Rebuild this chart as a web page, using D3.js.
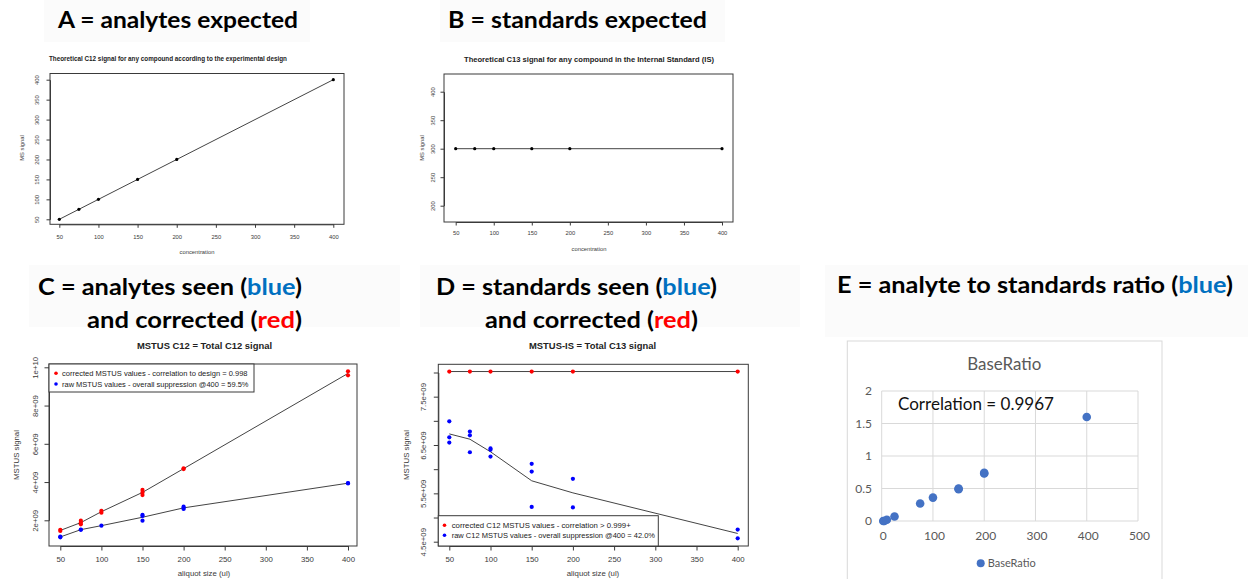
<!DOCTYPE html>
<html><head><meta charset="utf-8">
<script src="https://cdn.jsdelivr.net/npm/d3@7"></script>
<style>body{margin:0;background:#fff;} svg{display:block;}</style>
</head><body>
<svg id="chart" width="1248" height="579"></svg>
<script>
// ---------------- data ----------------
const designX   = [50, 75, 100, 150, 200, 400];
const designC12 = [50, 75, 100, 150, 200, 400];
const designC13 = [300, 300, 300, 300, 300, 300];

const rTicksX  = [50, 100, 150, 200, 250, 300, 350, 400];
const aTicksY  = [50, 100, 150, 200, 250, 300, 350, 400];
const bTicksY  = [200, 250, 300, 350, 400];
const cTicksY  = [2e9, 4e9, 6e9, 8e9, 1e10];
const cTickLabels = ["2e+09", "4e+09", "6e+09", "8e+09", "1e+10"];
const dTicksY  = [4.5e9, 5e9, 5.5e9, 6e9, 6.5e9, 7e9, 7.5e9, 8e9];
const dTickLabels = ["4.5e+09", "", "5.5e+09", "", "6.5e+09", "", "7.5e+09", ""];

// C: MSTUS C12
const cRedX  = [50, 50, 75, 75, 75, 100, 100, 150, 150, 150, 200, 200, 400, 400];
const cRedY  = [1.50e9, 1.44e9, 1.98e9, 1.88e9, 1.79e9, 2.50e9, 2.40e9, 3.59e9, 3.46e9, 3.32e9, 4.72e9, 4.68e9, 9.79e9, 9.58e9];
const cBlueX = [50, 50, 75, 75, 100, 150, 150, 150, 200, 200, 200, 400, 400];
const cBlueY = [1.11e9, 1.15e9, 1.50e9, 1.52e9, 1.72e9, 2.28e9, 2.23e9, 1.98e9, 2.71e9, 2.59e9, 2.65e9, 3.93e9, 3.95e9];
const cRedLine  = [1.47e9, 1.88e9, 2.45e9, 3.46e9, 4.70e9, 9.68e9];
const cBlueLine = [1.13e9, 1.51e9, 1.72e9, 2.16e9, 2.65e9, 3.94e9];

// D: MSTUS-IS
const dRedX  = [50, 75, 100, 150, 200, 400];
const dRedY  = [8.02e9, 8.02e9, 8.02e9, 8.02e9, 8.02e9, 8.02e9];
const dBlueX = [50, 50, 50, 75, 75, 75, 100, 100, 100, 150, 150, 150, 200, 200, 400, 400];
const dBlueY = [6.99e9, 6.66e9, 6.55e9, 6.78e9, 6.70e9, 6.35e9, 6.43e9, 6.40e9, 6.26e9, 6.11e9, 5.95e9, 5.22e9, 5.80e9, 5.21e9, 4.75e9, 4.57e9];
const dRedLine  = [8.02e9, 8.02e9, 8.02e9, 8.02e9, 8.02e9, 8.02e9];
const dBlueLine = [6.73e9, 6.62e9, 6.36e9, 5.76e9, 5.51e9, 4.67e9];

// E: BaseRatio
const eX = [3, 5, 10, 25, 75, 100, 150, 150, 200, 200, 400];
const eY = [0.00, 0.00, 0.02, 0.07, 0.27, 0.36, 0.49, 0.50, 0.73, 0.74, 1.60];
const eTicksX = [0, 100, 200, 300, 400, 500];
const eTicksY = [0, 0.5, 1, 1.5, 2];

// ---------------- drawing ----------------
const svg = d3.select("#chart");
const RF = "'Liberation Sans', Arial, sans-serif";
const HF = "Lato, 'Open Sans', sans-serif";
const INK = "#3a3a3a";

// faint heading backgrounds
[[44,0,266,42],[440,0,285,42],[29,265,371,62],[420,265,380,62],[825,265,423,72]].forEach(b=>{
  svg.append("rect").attr("x",b[0]).attr("y",b[1]).attr("width",b[2]).attr("height",b[3]).attr("fill","#fbfbfb");
});

// headings
function heading(parts, x, x2, base, size) {
  const t = svg.append("text").attr("x", x).attr("y", base)
    .attr("font-family", HF).attr("font-weight", 700).attr("font-size", size)
    .attr("fill", "#000").attr("textLength", x2 - x).attr("lengthAdjust", "spacingAndGlyphs");
  parts.forEach(p => t.append("tspan").text(p[0]).attr("fill", p[1] || "#000"));
}
heading([["A = analytes expected"]], 58, 298, 28, 23);
heading([["B = standards expected"]], 448, 707, 28, 23);
heading([["C = analytes seen ("],["blue","#0070C0"],[")"]], 38, 302, 295, 23);
heading([["and corrected ("],["red","#FF0000"],[")"]], 87, 302, 328, 23);
heading([["D = standards seen ("],["blue","#0070C0"],[")"]], 436, 717, 295, 23);
heading([["and corrected ("],["red","#FF0000"],[")"]], 485, 698, 328, 23);
heading([["E = analyte to standards ratio ("],["blue","#0070C0"],[")"]], 837, 1233, 293, 23);

// R-style panel
function rPanel(o) {
  const g = svg.append("g");
  const x = d3.scaleLinear().domain(o.xd).range(o.xr);
  const y = d3.scaleLinear().domain(o.yd).range(o.yr);
  g.append("rect").attr("x", o.box.l).attr("y", o.box.t)
    .attr("width", o.box.r - o.box.l).attr("height", o.box.b - o.box.t)
    .attr("fill", "none").attr("stroke", INK).attr("stroke-width", 1);
  // x axis
  const gx = g.append("g").attr("transform", `translate(0,${o.box.b})`)
    .call(d3.axisBottom(x).tickValues(rTicksX).tickSize(o.tick).tickSizeOuter(0).tickFormat(d3.format("d")));
  gx.selectAll("path,line").attr("stroke", INK);
  gx.selectAll("text").attr("font-family", RF).attr("font-size", o.fs).attr("fill", INK)
    .attr("y", o.xLabOff).attr("dy", "0.35em");
  // y axis
  const gy = g.append("g").attr("transform", `translate(${o.box.l},0)`)
    .call(d3.axisLeft(y).tickValues(o.yTicks).tickSize(o.tick).tickSizeOuter(0)
      .tickFormat((d, i) => o.yLabels ? o.yLabels[i] : d3.format("d")(d)));
  gy.selectAll("path,line").attr("stroke", INK);
  gy.selectAll("text").attr("font-family", RF).attr("font-size", o.fs).attr("fill", INK)
    .attr("x", 0).attr("dy", "0.35em").attr("text-anchor", "middle")
    .attr("transform", `translate(${-o.yLabOff},0) rotate(-90)`);
  gx.select(".domain").attr("fill", "none"); gy.select(".domain").attr("fill", "none");
  // titles
  g.append("text").attr("x", o.title.cx).attr("y", o.title.cy).attr("dy", "0.35em")
    .attr("text-anchor", "middle").attr("font-family", RF).attr("font-weight", 700)
    .attr("font-size", o.title.fs).attr("fill", "#222").text(o.title.text)
    .attr("textLength", o.title.w).attr("lengthAdjust", "spacingAndGlyphs");
  g.append("text").attr("x", o.xlab.cx).attr("y", o.xlab.cy).attr("dy", "0.35em")
    .attr("text-anchor", "middle").attr("font-family", RF).attr("font-size", o.xlab.fs)
    .attr("fill", INK).text(o.xlab.text);
  g.append("text").attr("transform", `translate(${o.ylab.cx},${o.ylab.cy}) rotate(-90)`)
    .attr("dy", "0.35em").attr("text-anchor", "middle").attr("font-family", RF)
    .attr("font-size", o.ylab.fs).attr("fill", INK).text(o.ylab.text);
  // lines and points
  const line = d3.line().x(d => x(d[0])).y(d => y(d[1]));
  o.lines.forEach(L => {
    g.append("path").datum(d3.zip(L.x, L.y)).attr("d", line)
      .attr("fill", "none").attr("stroke", "#444").attr("stroke-width", 1);
  });
  o.points.forEach(P => {
    g.selectAll(null).data(d3.zip(P.x, P.y)).join("circle")
      .attr("cx", d => x(d[0])).attr("cy", d => y(d[1])).attr("r", o.r).attr("fill", P.color);
  });
  // legend
  if (o.legend) {
    const L = o.legend;
    g.append("rect").attr("x", L.l).attr("y", L.t).attr("width", L.r - L.l).attr("height", L.b - L.t)
      .attr("fill", "#fff").attr("stroke", INK).attr("stroke-width", 1);
    L.rows.forEach(row => {
      g.append("circle").attr("cx", L.mx).attr("cy", row.y).attr("r", 1.8).attr("fill", row.color);
      g.append("text").attr("x", L.tx).attr("y", row.y).attr("dy", "0.35em")
        .attr("font-family", RF).attr("font-size", L.fs).attr("fill", "#222").text(row.text)
        .attr("textLength", row.end - L.tx).attr("lengthAdjust", "spacingAndGlyphs");
    });
  }
}

// Panel A
rPanel({
  xd: [50, 400], xr: [59.3, 333.3], yd: [50, 400], yr: [219.3, 79.7],
  box: { l: 50, t: 73.5, r: 344, b: 224.3 }, tick: 3.5, fs: 5.8, xLabOff: 12.5, yLabOff: 12.7,
  yTicks: aTicksY,
  title: { text: "Theoretical C12 signal for any compound according to the experimental design", cx: 168, cy: 59, fs: 6.4, w: 238 },
  xlab: { text: "concentration", cx: 197, cy: 251.7, fs: 5.8 },
  ylab: { text: "MS signal", cx: 21.7, cy: 148, fs: 5.8 },
  lines: [{ x: designX, y: designC12 }],
  points: [{ x: designX, y: designC12, color: "#000" }], r: 1.6
});

// Panel B
rPanel({
  xd: [50, 400], xr: [455.7, 722], yd: [200, 400], yr: [205.7, 91.7],
  box: { l: 444, t: 74, r: 733, b: 222 }, tick: 3.5, fs: 5.8, xLabOff: 11.3, yLabOff: 10.7,
  yTicks: bTicksY,
  title: { text: "Theoretical C13 signal for any compound in the Internal Standard (IS)", cx: 589, cy: 60, fs: 6.4, w: 250 },
  xlab: { text: "concentration", cx: 589, cy: 249.3, fs: 5.8 },
  ylab: { text: "MS signal", cx: 422, cy: 148, fs: 5.8 },
  lines: [{ x: designX, y: designC13 }],
  points: [{ x: designX, y: designC13, color: "#000" }], r: 1.6
});

// Panel C
rPanel({
  xd: [50, 400], xr: [60.3, 348], yd: [2e9, 1e10], yr: [520.3, 367.3],
  box: { l: 49, t: 364, r: 357, b: 546 }, tick: 4.5, fs: 7.8, xLabOff: 13, yLabOff: 14,
  yTicks: cTicksY, yLabels: cTickLabels,
  title: { text: "MSTUS C12 = Total C12 signal", cx: 204.5, cy: 345.7, fs: 9.4, w: 135 },
  xlab: { text: "aliquot size (ul)", cx: 204, cy: 573, fs: 7.8 },
  ylab: { text: "MSTUS signal", cx: 16.7, cy: 455, fs: 7.8 },
  lines: [{ x: designX, y: cRedLine }, { x: designX, y: cBlueLine }],
  points: [{ x: cRedX, y: cRedY, color: "#FF0000" }, { x: cBlueX, y: cBlueY, color: "#0000FF" }], r: 2.1,
  legend: { l: 49, t: 364, r: 254, b: 392, mx: 56, tx: 62, fs: 7.3,
    rows: [
      { y: 373.3, color: "#FF0000", text: "corrected MSTUS values - correlation to design = 0.998", end: 247.5 },
      { y: 384, color: "#0000FF", text: "raw MSTUS values - overall suppression @400 = 59.5%", end: 248.5 }
    ] }
});

// Panel D
rPanel({
  xd: [50, 400], xr: [449.3, 737.7], yd: [4.5e9, 8e9], yr: [541.7, 372.5],
  box: { l: 438.3, t: 364.3, r: 748.3, b: 546 }, tick: 4.5, fs: 7.8, xLabOff: 13, yLabOff: 15,
  yTicks: dTicksY, yLabels: dTickLabels,
  title: { text: "MSTUS-IS = Total C13 signal", cx: 592.5, cy: 345.7, fs: 9.4, w: 127 },
  xlab: { text: "aliquot size (ul)", cx: 593, cy: 573, fs: 7.8 },
  ylab: { text: "MSTUS signal", cx: 406.7, cy: 455, fs: 7.8 },
  lines: [{ x: designX, y: dRedLine }, { x: designX, y: dBlueLine }],
  points: [{ x: dRedX, y: dRedY, color: "#FF0000" }, { x: dBlueX, y: dBlueY, color: "#0000FF" }], r: 2.1,
  legend: { l: 438.3, t: 515.7, r: 658.3, b: 546, mx: 444.5, tx: 451.7, fs: 7.3,
    rows: [
      { y: 525.3, color: "#FF0000", text: "corrected C12 MSTUS values - correlation > 0.999+", end: 630.7 },
      { y: 535.2, color: "#0000FF", text: "raw C12 MSTUS values - overall suppression @400 = 42.0%", end: 655 }
    ] }
});

// Panel E (Excel-style)
(function () {
  const g = svg.append("g");
  const x = d3.scaleLinear().domain([0, 500]).range([881.7, 1138]);
  const y = d3.scaleLinear().domain([0, 2]).range([521, 391]);
  g.append("rect").attr("x", 847.3).attr("y", 341).attr("width", 314.7).attr("height", 260)
    .attr("fill", "#fff").attr("stroke", "#d9d9d9").attr("stroke-width", 1);
  g.append("text").attr("x", 1004.3).attr("y", 369.5).attr("text-anchor", "middle")
    .attr("font-family", HF).attr("font-size", 16.5).attr("fill", "#595959").text("BaseRatio")
    .attr("textLength", 74).attr("lengthAdjust", "spacingAndGlyphs");
  g.selectAll(null).data(eTicksY).join("line")
    .attr("x1", x(0)).attr("x2", x(500)).attr("y1", d => y(d)).attr("y2", d => y(d))
    .attr("stroke", "#d9d9d9").attr("stroke-width", 1);
  g.selectAll(null).data(eTicksX).join("line")
    .attr("x1", d => x(d)).attr("x2", d => x(d)).attr("y1", y(0)).attr("y2", y(2))
    .attr("stroke", "#d9d9d9").attr("stroke-width", 1);
  g.selectAll(null).data(eTicksY).join("text")
    .attr("x", 872).attr("y", d => y(d)).attr("dy", "0.35em").attr("text-anchor", "end")
    .attr("font-family", HF).attr("font-size", 12).attr("fill", "#595959")
    .text(d => d3.format("~g")(d));
  g.selectAll(null).data(eTicksX).join("text")
    .attr("x", d => x(d) + 1.5).attr("y", 536).attr("dy", "0.35em").attr("text-anchor", "middle")
    .attr("font-family", HF).attr("font-size", 12).attr("fill", "#595959").text(d => d);
  g.append("text").attr("x", 898).attr("y", 410).attr("font-family", HF).attr("font-size", 17)
    .attr("fill", "#111").text("Correlation = 0.9967")
    .attr("textLength", 156).attr("lengthAdjust", "spacingAndGlyphs");
  g.selectAll(null).data(d3.zip(eX, eY)).join("circle")
    .attr("cx", d => x(d[0])).attr("cy", d => y(d[1])).attr("r", 4.3).attr("fill", "#4472C4");
  g.append("circle").attr("cx", 980.7).attr("cy", 563.3).attr("r", 4).attr("fill", "#4472C4");
  g.append("text").attr("x", 987.7).attr("y", 563.3).attr("dy", "0.35em")
    .attr("font-family", HF).attr("font-size", 11.5).attr("fill", "#595959").text("BaseRatio")
    .attr("textLength", 48).attr("lengthAdjust", "spacingAndGlyphs");
})();
</script>
</body></html>
